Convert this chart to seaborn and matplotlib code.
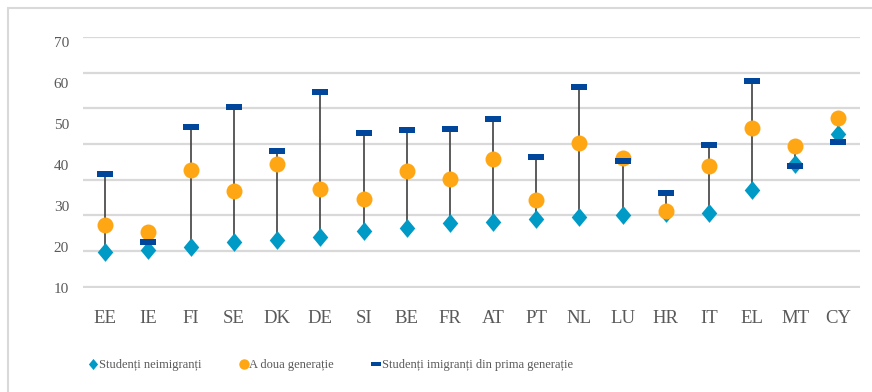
import numpy as np
import matplotlib
matplotlib.use("Agg")
import matplotlib.pyplot as plt
from matplotlib.path import Path
from matplotlib.lines import Line2D
import seaborn as sns

# Share of low achievers by migrant background (%)
countries = ["EE", "IE", "FI", "SE", "DK", "DE", "SI", "BE", "FR", "AT",
             "PT", "NL", "LU", "HR", "IT", "EL", "MT", "CY"]
non_immigrant = [9.8, 10.4, 11.1, 12.5, 13.2, 13.9, 15.5, 16.5, 17.8, 18.1,
                 19.0, 19.6, 20.1, 20.8, 20.8, 27.0, 34.5, 42.7]
second_gen = [17.3, 15.2, 32.6, 26.7, 34.5, 27.5, 24.6, 32.3, 30.1, 35.7,
              24.3, 40.2, 36.0, 21.3, 33.8, 44.6, 39.4, 47.3]
first_gen = [31.7, 12.5, 44.8, 50.4, 38.1, 54.5, 43.1, 44.0, 44.3, 47.1,
             36.3, 56.0, 35.3, 26.4, 39.6, 57.6, 33.8, 40.6]

series_labels = ["Studenți neimigranți", "A doua generație",
                 "Studenți imigranți din prima generație"]
grid_values = [0, 10, 20, 30, 40, 50, 60, 70]
axis_labels = ["10", "20", "30", "40", "50", "60", "70"]

C_NON = "#009AC7"
C_SECOND = "#FFA614"
C_FIRST = "#00469A"
C_LINE = "#404040"
C_TEXT = "#595959"
C_GRID = "#D9D9D9"

sns.set_theme(style="white")
plt.rcParams["font.family"] = ["Liberation Serif", "DejaVu Serif"]

fig = plt.figure(figsize=(8.72, 3.92), dpi=100)
ax = fig.add_axes([83 / 872, 1 - 288 / 392, (860 - 83) / 872, (288 - 37) / 392])

x = np.arange(len(countries))
diamond = Path([(0, 1), (0.83, 0), (0, -1), (-0.83, 0), (0, 1)],
               [Path.MOVETO, Path.LINETO, Path.LINETO, Path.LINETO, Path.CLOSEPOLY])
dash = Path([(-1, -0.33), (1, -0.33), (1, 0.33), (-1, 0.33), (-1, -0.33)],
            [Path.MOVETO, Path.LINETO, Path.LINETO, Path.LINETO, Path.CLOSEPOLY])

# high-low lines spanning the three series
lows = np.minimum.reduce([non_immigrant, second_gen, first_gen])
highs = np.maximum.reduce([non_immigrant, second_gen, first_gen])
ax.vlines(x, lows, highs, color=C_LINE, linewidth=1.2, zorder=2)

sns.scatterplot(x=x, y=non_immigrant, marker=diamond, s=13.5 ** 2,
                color=C_NON, linewidth=0, ax=ax, zorder=3)
sns.scatterplot(x=x, y=second_gen, marker="o", s=11.5 ** 2,
                color=C_SECOND, linewidth=0, ax=ax, zorder=4)
sns.scatterplot(x=x, y=first_gen, marker=dash, s=11 ** 2,
                color=C_FIRST, linewidth=0, ax=ax, zorder=5)

ax.set_xlim(-0.5, len(countries) - 0.5)
ax.set_ylim(0, 70)
ax.set_xticks(x, countries)
ax.tick_params(axis="x", length=0, pad=16, labelsize=13.5, labelcolor=C_TEXT)

# grid on the major ticks, value labels on their own minor ticks
ax.set_yticks(grid_values, [""] * len(grid_values))
label_pos = [-0.36 + i * 11.49 for i in range(len(axis_labels))]
ax.set_yticks(label_pos, axis_labels, minor=True)
ax.tick_params(axis="y", which="both", length=0, pad=10, labelsize=11,
               labelcolor=C_TEXT)
ax.yaxis.grid(True, which="major", color=C_GRID, linewidth=1.6)
ax.xaxis.grid(False)
ax.set_axisbelow(True)
for sp in ax.spines.values():
    sp.set_visible(False)
ax.set_xlabel("")
ax.set_ylabel("")

# legend along the bottom
handles = [
    Line2D([], [], linestyle="none", marker=diamond, markersize=8,
           color=C_NON, markeredgewidth=0),
    Line2D([], [], linestyle="none", marker="o", markersize=7.5,
           color=C_SECOND, markeredgewidth=0),
    Line2D([], [], linestyle="none", marker=dash, markersize=7,
           color=C_FIRST, markeredgewidth=0),
]
leg = fig.legend(handles, series_labels, loc="center left",
                 bbox_to_anchor=(83 / 872, 1 - 365 / 392), ncol=3,
                 frameon=False, borderpad=0, handlelength=0.6,
                 handletextpad=0.15, columnspacing=3.1,
                 prop={"size": 9})
for t in leg.get_texts():
    t.set_color(C_TEXT)

# outer frame (top and left edges)
fig.add_artist(Line2D([8 / 872, 1], [1 - 8 / 392] * 2, color=C_GRID,
                      linewidth=1.5, transform=fig.transFigure))
fig.add_artist(Line2D([8 / 872] * 2, [0, 1 - 8 / 392], color=C_GRID,
                      linewidth=1.5, transform=fig.transFigure))

fig.savefig("out.png", dpi=100, facecolor="white")
